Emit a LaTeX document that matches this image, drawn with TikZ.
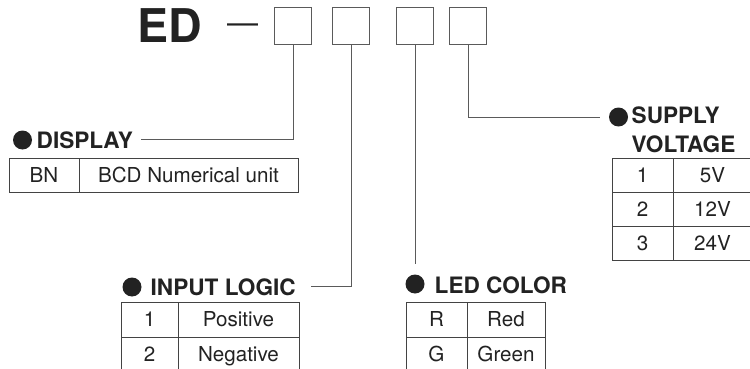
\documentclass[tikz,border=0pt]{standalone}
\usepackage{fontspec}
\setmainfont{TeX Gyre Heros}
\usetikzlibrary{positioning}
\definecolor{ink}{HTML}{222222}
\definecolor{rule}{HTML}{5A5A5A}
\tikzset{
	digit/.style={draw=rule,line width=1.3pt,minimum size=37pt,inner sep=0pt},
	title/.style={anchor=base west,inner sep=0pt,text=ink,font=\fontsize{22.6}{26}\selectfont\bfseries},
	dot/.style={circle,fill=ink,minimum size=19pt,inner sep=0pt},
	cell/.style={draw=ink!85,line width=0.9pt,inner sep=0pt,text=ink,text height=14.5pt,text depth=0pt,font=\fontsize{20.6}{23}\selectfont},
	lead/.style={draw=rule,line width=1pt},
}
\begin{document}
\begin{tikzpicture}[x=1pt,y=-1pt]
	\useasboundingbox (0,0) rectangle (750,369);

	% type code head
	\node[anchor=base west,inner sep=0pt,text=ink,font=\fontsize{46.5}{50}\selectfont\bfseries] (ed) at (137.5,43) {ED};
	\node[anchor=base west,inner sep=0pt,text=ink,font=\fontsize{31}{34}\selectfont] (sep) at (227,33.6) {—};

	% the four code boxes
	\node[digit] (box1) at (293,26) {};
	\node[digit] (box2) at (351,26) {};
	\node[digit] (box3) at (415,26) {};
	\node[digit] (box4) at (468,26) {};

	% titles
	\node[dot] (disdot) at (22.5,140) {};
	\node[title] (display) at (36.5,148) {DISPLAY};
	\node[dot] (indot) at (132,287) {};
	\node[title] (inlogic) at (150.5,295) {INPUT LOGIC};
	\node[dot] (leddot) at (415,284) {};
	\node[title] (ledcolor) at (434.5,293) {LED COLOR};
	\node[dot] (supdot) at (618.5,117) {};
	\node[title] (supply) at (631.5,124) {SUPPLY};
	\node[title] (voltage) at (631.5,152) {VOLTAGE};

	% leader lines
	\draw[lead] (box1.south) |- ([xshift=8pt]display.east);
	\draw[lead] (box2.south) |- ([xshift=15pt]inlogic.east);
	\draw[lead] (box3.south) -- ([yshift=10pt]leddot.north);
	\draw[lead] (box4.south) |- ([xshift=-9pt]supdot.west);

	% display table
	\def\rh{34}
	\node[cell,minimum width=70pt,minimum height=\rh pt] (bnkey) at (44,175) {BN};
	\node[cell,minimum width=219pt,minimum height=\rh pt] (bnval) at (188.5,175) {BCD Numerical unit};

	% input logic table
	\def\rh{35}
	\node[cell,minimum width=57pt,minimum height=\rh pt] (inkey1) at (149.5,319.5) {1};
	\node[cell,minimum width=121pt,minimum height=\rh pt] (inval1) at (238.5,319.5) {Positive};
	\node[cell,minimum width=57pt,minimum height=\rh pt] (inkey2) at (149.5,354.5) {2};
	\node[cell,minimum width=121pt,minimum height=\rh pt] (inval2) at (238.5,354.5) {Negative};

	% led color table
	\node[cell,minimum width=61pt,minimum height=\rh pt] (ledkey1) at (436.5,319.5) {R};
	\node[cell,minimum width=78pt,minimum height=\rh pt] (ledval1) at (506,319.5) {Red};
	\node[cell,minimum width=61pt,minimum height=\rh pt] (ledkey2) at (436.5,354.5) {G};
	\node[cell,minimum width=78pt,minimum height=\rh pt] (ledval2) at (506,354.5) {Green};

	% supply voltage table
	\def\rh{34}
	\node[cell,minimum width=61pt,minimum height=\rh pt] (supkey1) at (642.5,175) {1};
	\node[cell,minimum width=79pt,minimum height=\rh pt] (supval1) at (712.5,175) {5V};
	\node[cell,minimum width=61pt,minimum height=\rh pt] (supkey2) at (642.5,209) {2};
	\node[cell,minimum width=79pt,minimum height=\rh pt] (supval2) at (712.5,209) {12V};
	\node[cell,minimum width=61pt,minimum height=\rh pt] (supkey3) at (642.5,243) {3};
	\node[cell,minimum width=79pt,minimum height=\rh pt] (supval3) at (712.5,243) {24V};

\end{tikzpicture}
\end{document}
